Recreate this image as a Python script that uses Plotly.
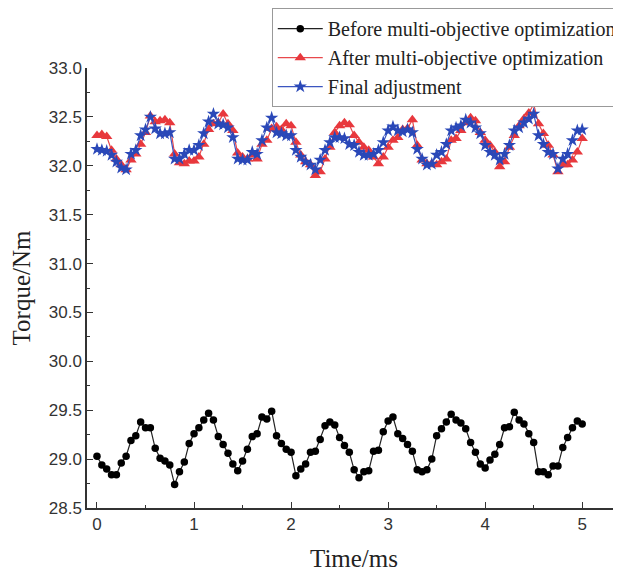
import plotly.graph_objects as go

time_ms = [round(i * 0.05, 2) for i in range(101)]

before_opt = [
    29.03, 28.94, 28.90, 28.84, 28.84, 28.96, 29.03, 29.19, 29.24, 29.38,
    29.32, 29.32, 29.11, 29.01, 28.98, 28.94, 28.74, 28.87, 28.97, 29.16,
    29.26, 29.32, 29.40, 29.47, 29.40, 29.23, 29.15, 29.06, 28.95, 28.88,
    28.98, 29.10, 29.23, 29.26, 29.43, 29.41, 29.49, 29.24, 29.16, 29.10,
    29.07, 28.83, 28.90, 28.95, 29.07, 29.08, 29.20, 29.34, 29.38, 29.35,
    29.22, 29.14, 29.07, 28.89, 28.81, 28.87, 28.88, 29.08, 29.09, 29.28,
    29.39, 29.43, 29.26, 29.21, 29.15, 29.08, 28.89, 28.87, 28.89, 29.00,
    29.24, 29.31, 29.38, 29.46, 29.40, 29.37, 29.31, 29.17, 29.07, 28.95,
    28.91, 28.99, 29.05, 29.15, 29.32, 29.33, 29.48, 29.40, 29.36, 29.26,
    29.17, 28.87, 28.87, 28.84, 28.93, 28.93, 29.12, 29.22, 29.32, 29.39,
    29.36,
]

after_opt = [
    32.31, 32.32, 32.30, 32.16, 32.07, 32.01, 31.96, 32.06, 32.12, 32.22,
    32.34, 32.51, 32.45, 32.46, 32.47, 32.44, 32.12, 32.03, 32.02, 32.05,
    32.05, 32.09, 32.22, 32.37, 32.43, 32.44, 32.53, 32.43, 32.36, 32.13,
    32.09, 32.07, 32.11, 32.07, 32.22, 32.26, 32.38, 32.40, 32.37, 32.43,
    32.41, 32.24, 32.11, 32.04, 32.01, 31.90, 31.94, 32.07, 32.19, 32.34,
    32.41, 32.44, 32.42, 32.31, 32.24, 32.19, 32.16, 32.09, 32.02, 32.09,
    32.19, 32.26, 32.29, 32.37, 32.38, 32.47, 32.21, 32.06, 32.02, 32.02,
    32.01, 32.04, 32.07, 32.26, 32.28, 32.36, 32.44, 32.49, 32.46, 32.34,
    32.26, 32.21, 32.14, 31.99, 32.04, 32.19, 32.31, 32.41, 32.48, 32.54,
    32.63, 32.43, 32.33, 32.21, 32.11, 31.94, 32.01, 32.01, 32.06, 32.14,
    32.28,
]

final_adj = [
    32.17, 32.16, 32.15, 32.11, 32.04, 31.98, 31.96, 32.12, 32.16, 32.31,
    32.37, 32.50, 32.38, 32.33, 32.33, 32.34, 32.07, 32.07, 32.12, 32.16,
    32.16, 32.21, 32.33, 32.45, 32.53, 32.43, 32.42, 32.39, 32.29, 32.07,
    32.06, 32.06, 32.14, 32.12, 32.26, 32.39, 32.49, 32.34, 32.33, 32.31,
    32.31, 32.16, 32.09, 32.04, 32.01, 31.96, 32.06, 32.16, 32.24, 32.29,
    32.29, 32.28, 32.22, 32.21, 32.14, 32.11, 32.11, 32.12, 32.16, 32.24,
    32.36, 32.40, 32.36, 32.35, 32.37, 32.34, 32.17, 32.07, 32.01, 32.02,
    32.11, 32.14, 32.22, 32.36, 32.39, 32.41, 32.47, 32.44, 32.39, 32.33,
    32.21, 32.14, 32.11, 32.06, 32.12, 32.21, 32.36, 32.39, 32.44, 32.48,
    32.53, 32.31, 32.22, 32.14, 32.12, 31.97, 32.07, 32.12, 32.26, 32.36,
    32.37,
]

series_names = [
    "Before multi-objective optimization",
    "After multi-objective optimization",
    "Final adjustment",
]

fig = go.Figure()
fig.add_trace(go.Scatter(
    x=time_ms, y=before_opt, mode="lines+markers", name=series_names[0],
    line=dict(color="#222222", width=1.2),
    marker=dict(symbol="circle", size=7.5, color="#000000"),
))
fig.add_trace(go.Scatter(
    x=time_ms, y=after_opt, mode="lines+markers", name=series_names[1],
    line=dict(color="#E8484C", width=1.2),
    marker=dict(symbol="triangle-up", size=10, color="#E8383D"),
))
fig.add_trace(go.Scatter(
    x=time_ms, y=final_adj, mode="lines+markers", name=series_names[2],
    line=dict(color="#3B55C0", width=1.2),
    marker=dict(symbol="star", size=10, color="#2A48B8"),
))

axis_font = dict(family="Liberation Sans, Arial, sans-serif", size=17, color="#333333")
title_font = dict(family="Liberation Serif, Times New Roman, serif", size=25, color="#222222")

fig.update_layout(
    width=613, height=565,
    margin=dict(l=79, r=0, t=60, b=65, autoexpand=False),
    paper_bgcolor="white", plot_bgcolor="white",
    showlegend=True,
    legend=dict(
        x=0.346, y=1.136, xanchor="left", yanchor="top",
        font=dict(family="Liberation Serif, Times New Roman, serif", size=20, color="#222222"),
        bgcolor="white", bordercolor="#999999", borderwidth=1,
        itemwidth=45, tracegroupgap=0,
    ),
    xaxis=dict(
        range=[-0.103, 5.40], tickmode="linear", tick0=0, dtick=1,
        ticks="inside", ticklen=6, tickwidth=1.2, tickcolor="#333333",
        showline=True, linecolor="#333333", linewidth=1.5,
        showgrid=False, zeroline=False, tickfont=axis_font,
        minor=dict(ticks="inside", ticklen=3, dtick=0.5, tick0=0, tickcolor="#333333", showgrid=False),
        title=dict(text="Time/ms", font=title_font, standoff=16),
    ),
    yaxis=dict(
        range=[28.5, 33.0], tickmode="linear", tick0=28.5, dtick=0.5,
        tickformat=".1f",
        ticks="inside", ticklen=6, tickwidth=1.2, tickcolor="#333333",
        showline=True, linecolor="#333333", linewidth=1.5,
        showgrid=False, zeroline=False, tickfont=axis_font,
        minor=dict(ticks="inside", ticklen=3, dtick=0.25, tick0=28.5, tickcolor="#333333", showgrid=False),
        title=dict(text="Torque/Nm", font=title_font, standoff=12),
    ),
)

fig.write_html("out.html")
